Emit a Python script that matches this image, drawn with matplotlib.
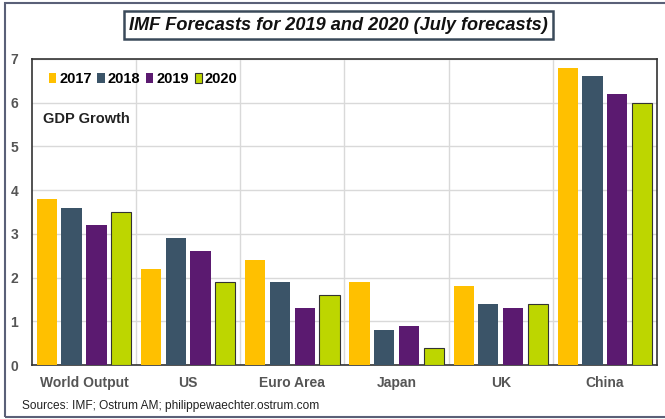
import matplotlib
matplotlib.use("Agg")
import matplotlib.pyplot as plt
import numpy as np
from matplotlib.patches import Rectangle

plt.rcParams['font.family'] = ['Liberation Sans', 'DejaVu Sans']

categories = ["World Output", "US", "Euro Area", "Japan", "UK", "China"]
years = ["2017", "2018", "2019", "2020"]
v2017 = [3.8, 2.2, 2.4, 1.9, 1.8, 6.8]
v2018 = [3.6, 2.9, 1.9, 0.8, 1.4, 6.6]
v2019 = [3.2, 2.6, 1.3, 0.9, 1.3, 6.2]
v2020 = [3.5, 1.9, 1.6, 0.4, 1.4, 6.0]
series = [v2017, v2018, v2019, v2020]
colors = ["#FFC000", "#3B5468", "#5B1A70", "#BDD600"]
yticks = [0, 1, 2, 3, 4, 5, 6, 7]

fig = plt.figure(figsize=(6.65, 4.19), dpi=100)
ax = fig.add_axes([32/665, 1-365/419, (657-32)/665, (365-59)/419])

x = np.arange(len(categories))
offsets = [-0.356, -0.12, 0.118, 0.356]
width = 0.195
for i, (s, c, off) in enumerate(zip(series, colors, offsets)):
    ec = "#333333" if i == 3 else c
    ax.bar(x + off, s, width=width, color=c, edgecolor=ec, linewidth=0.8 if i == 3 else 0, label=years[i], zorder=3)

ax.set_xlim(-0.5, len(categories) - 0.5)
ax.set_ylim(0, 7)
ax.set_yticks(yticks)
ax.set_yticklabels([str(t) for t in yticks], fontsize=10, color="#555555", fontweight="bold")
ax.set_xticks(x)
ax.set_xticklabels(categories, fontsize=10, color="#555555", fontweight="bold")
ax.tick_params(axis='both', length=0)
ax.tick_params(axis='y', pad=10)
ax.tick_params(axis='x', pad=8)

ax.set_xticks(np.arange(0.5, len(categories) - 0.5, 1), minor=True)
ax.grid(axis='y', color="#d9d9d9", linewidth=1, zorder=0)
ax.grid(axis='x', which='minor', color="#d9d9d9", linewidth=1, zorder=0)
ax.tick_params(axis='x', which='minor', length=0)
for sp in ax.spines.values():
    sp.set_color("#333333")
    sp.set_linewidth(1.2)

leg = ax.legend(loc="upper left", bbox_to_anchor=(0.006, 1.0), ncol=4, frameon=False,
                handlelength=0.5, handleheight=0.6, handletextpad=0.2, columnspacing=0.4,
                prop={'weight': 'bold', 'size': 10.5})
ax.text(0.017, 0.805, "GDP Growth", transform=ax.transAxes, fontsize=10.5, fontweight="bold",
        color="#222222", va="center", ha="left")

fig.text(0.509, 1-25/419, "IMF Forecasts for 2019 and 2020 (July forecasts)", fontsize=13.1,
         fontweight="bold", style="italic", ha="center", va="center", color="#111111",
         bbox=dict(boxstyle="square,pad=0.3", facecolor="white", edgecolor="#3B4A5A", linewidth=1.8))

fig.text(22/665, 1-406/419, "Sources: IMF; Ostrum AM; philippewaechter.ostrum.com", fontsize=8.6,
         color="#222222", ha="left", va="center")

fig.patches.append(Rectangle((5/665, 2/419), 1.0, 1-5/419, transform=fig.transFigure,
                             fill=False, edgecolor="#5A6078", linewidth=1.5))

fig.savefig("out.png", dpi=100)
